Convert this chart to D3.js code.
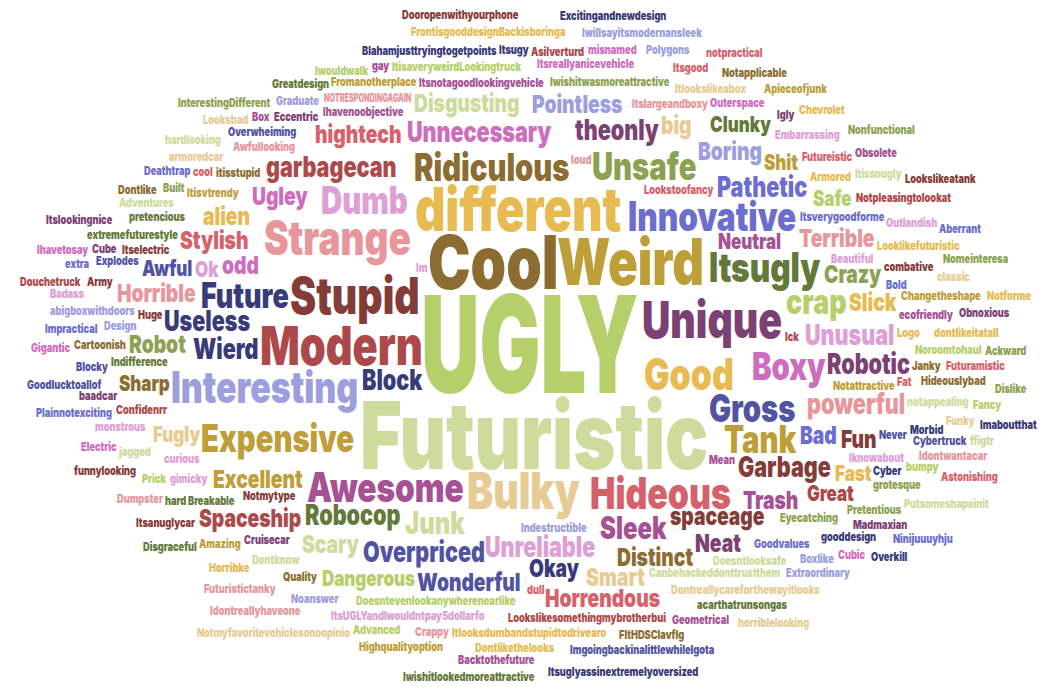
<!DOCTYPE html>
<html>
<head>
<meta charset="utf-8">
<script src="https://cdn.jsdelivr.net/npm/d3@7"></script>
<style>
  html, body { margin: 0; padding: 0; background: #fff; }
  #chart { width: 1061px; height: 687px; }
</style>
</head>
<body>
<div id="chart"></div>
<script>
// PALETTE (category20b)
const palette = [
  "#393b79", "#5254a3", "#6b6ecf", "#9c9ede", "#637939",
  "#8ca252", "#b5cf6b", "#cedb9c", "#8c6d31", "#bd9e39",
  "#e7ba52", "#e7cb94", "#843c39", "#ad494a", "#d6616b",
  "#e7969c", "#7b4173", "#a55194", "#ce6dbd", "#de9ed6"
];

// WORDS SAID MORE THAN ONCE

const commonWords = [
  "UGLY", "Futuristic", "Cool", "Weird", "different", "Modern", "Unique", "Stupid", "Strange", "Bulky",
  "Interesting", "Good", "Hideous", "Innovative", "Itsugly", "Awesome", "Ridiculous", "Gross", "Expensive", "Boxy",
  "Tank", "Dumb", "Unsafe", "Future", "crap", "Junk", "Sleek", "Unreliable", "Unnecessary", "Garbage",
  "garbagecan", "Wierd", "Block", "Robocop", "Unusual", "theonly", "Overpriced", "Pathetic", "powerful", "Useless",
  "Robotic", "spaceage", "Excellent", "odd", "Bad", "Ugley", "Crazy", "Terrible", "Distinct", "Boring",
  "Stylish", "Okay", "Trash", "hightech", "Disgusting", "Slick", "Scary", "Fun", "Smart", "Wonderful",
  "Pointless", "Neat", "Spaceship", "Robot", "Horrible", "alien", "big", "Horrendous", "Neutral", "Great",
  "Shit", "Fugly", "Awful", "Safe", "Sharp", "Clunky", "Fast", "Dangerous", "Ok"
];

const commonCounts = [
  39, 26, 20, 17, 16, 14, 13, 13, 12, 13,
  11, 11, 11, 10, 10, 10, 9, 9, 9, 9,
  9, 9, 9, 8, 8, 7, 7, 6, 6, 6,
  6, 6, 6, 6, 6, 6, 6, 6, 6, 6,
  6, 5, 5, 5, 5, 5, 5, 5, 5, 5,
  5, 5, 5, 5, 5, 5, 5, 5, 5, 5,
  5, 5, 5, 5, 5, 5, 5, 5, 4, 4,
  4, 4, 4, 4, 4, 4, 4, 4, 4
];

// palette slot of each word
const commonSlots = [
  6, 7, 8, 9, 10, 13, 16, 12, 15, 11,
  3, 10, 14, 2, 4, 17, 8, 1, 9, 18,
  9, 19, 5, 0, 6, 7, 17, 19, 18, 12,
  13, 0, 0, 4, 19, 16, 1, 2, 15, 0,
  16, 12, 9, 18, 2, 18, 5, 15, 8, 3,
  14, 0, 17, 14, 7, 10, 7, 12, 11, 1,
  3, 16, 13, 5, 15, 10, 11, 14, 17, 13,
  9, 11, 1, 6, 8, 4, 10, 6, 19
];

// WORDS SAID ONCE

const rareWords = [
  "Lookstoofancy", "Notmytype", "Itsverygoodforme", "Indestructible", "Itsnotagoodlookingvehicle", "Doesntevenlookanywherenearlike", "Notattractive", "Eyecatching", "Canbehackeddonttrustthem", "Beautiful",
  "Itisvtrendy", "Iknowabout", "Ihavenoobjective", "Iwishitwasmoreattractive", "Logo", "itisstupid", "Indifference", "Huge", "Itslargeandboxy", "Goodvalues",
  "Doesntlooksafe", "ecofriendly", "Awfullooking", "combative", "Mean", "Cruisecar", "Breakable", "Armored", "Bold", "curious",
  "Lookslikesomethingmybrotherbui", "NOTRESPONDINGAGAIN", "Never", "Looklikefuturistic", "ItisaveryweirdLookingtruck", "Confidenrr", "Changetheshape", "gimicky", "Janky", "Dontreallycareforthewayitlooks",
  "Itselectric", "Futureistic", "Noroomtohaul", "notappealing", "pretencious", "Overwheiming", "ItsUGLYandIwouldntpay5dollarfo", "Itsreallyanicevehicle", "Notpleasingtolookat", "loud",
  "Itlooksdumbandstupidtodrivearo", "Embarrassing", "extremefuturestyle", "Cyber", "Hideouslybad", "Outerspace", "Fromanotherplace", "Pretentious", "Dontknow", "Itlookslikeabox",
  "Design", "Eccentric", "Morbid", "Outlandish", "monstrous", "Quality", "dontlikeitatall", "Cartoonish", "grotesque", "Explodes",
  "Itissougly", "gooddesign", "jagged", "Cybertruck", "classic", "Prick", "Ick", "cool", "Fat", "bumpy",
  "dull", "abigboxwithdoors", "Boxlike", "Amazing", "Built", "hard", "Adventures", "acarthatrunsongas", "baadcar", "Blocky",
  "Igly", "armoredcar", "Army", "Im", "Futuramistic", "Madmaxian", "Graduate", "Noanswer", "Deathtrap", "Blahamjusttryingtogetpoints",
  "Asilverturd", "Extraordinary", "Itsanuglycar", "Itsgood", "Obnoxious", "Geometrical", "Funky", "Impractical", "Cube", "Dumpster",
  "Itsugy", "Obsolete", "hardlooking", "Greatdesign", "Nomeinteresa", "Idontwantacar", "Cubic", "Crappy", "Horribke", "FltHDSClavflg",
  "Dontlikethelooks", "funnylooking", "Plainnotexciting", "Dontlike", "Looksbad", "Electric", "misnamed", "Iwouldwalk", "Notapplicable", "Chevrolet",
  "Advanced", "Apieceofjunk", "Aberrant", "FrontisgooddesignBackisboringa", "InterestingDifferent", "Goodlucktoallof", "Futuristictanky", "Putsomeshapeinit", "Imgoingbackinalittlewhilelgota", "Polygons",
  "Nonfunctional", "Lookslikeatank", "Box", "gay", "Badass", "Ackward", "Disgraceful", "Fancy", "Astonishing", "Highqualityoption",
  "Gigantic", "Backtothefuture", "Itslookingnice", "Notforme", "Iwillsayitsmodernansleek", "notpractical", "extra", "Dislike", "ffigtr", "Idontreallyhaveone",
  "Dooropenwithyourphone", "Excitingandnewdesign", "Douchetruck", "Imaboutthat", "Ninijuuuyhju", "Ihavetosay", "Overkill", "horriblelooking", "Itsuglyassinextremelyoversized", "Iwishitlookedmoreattractive",
  "Notmyfavoritevehiclesonoopinio"
];

const rareSlots = [
  14, 12, 2, 3, 17, 6, 9, 5, 7, 19,
  9, 19, 17, 5, 10, 8, 4, 12, 15, 2,
  7, 17, 15, 12, 17, 16, 4, 10, 2, 19,
  13, 15, 1, 10, 6, 13, 9, 19, 8, 11,
  12, 14, 6, 7, 4, 1, 19, 18, 13, 15,
  10, 19, 4, 0, 8, 18, 9, 5, 7, 11,
  3, 16, 0, 19, 19, 8, 10, 8, 5, 1,
  7, 0, 7, 1, 11, 6, 13, 14, 14, 6,
  14, 3, 3, 9, 5, 4, 7, 4, 16, 1,
  16, 11, 12, 19, 14, 16, 3, 3, 2, 0,
  13, 3, 12, 14, 16, 17, 11, 2, 16, 15,
  0, 17, 7, 4, 5, 15, 18, 15, 10, 8,
  10, 12, 2, 8, 11, 18, 18, 6, 8, 10,
  6, 9, 2, 10, 5, 1, 15, 7, 1, 3,
  5, 12, 17, 17, 19, 5, 4, 6, 14, 9,
  18, 17, 16, 10, 3, 14, 2, 5, 7, 15,
  12, 0, 13, 0, 2, 18, 0, 11, 0, 4,
  11
];

// SVG CANVAS

const width = 1061;
const height = 687;
const FONT = "Inter, Roboto, sans-serif";
const WEIGHT = 900;

// horizontal squeeze to get an Impact-like narrow face (capitals are narrower in Impact)
function squeeze(text) {
    return text === text.toUpperCase() ? 0.6 : 0.77;
}

const svg = d3.select("#chart")
    .append("svg")
    .attr("width", width)
    .attr("height", height);

const g = svg.append("g");

// DATA + SCALES

let words = commonWords.map(function(w, i) {
    return {text: w, count: commonCounts[i], slot: commonSlots[i]};
}).concat(rareWords.map(function(w, i) {
    return {text: w, count: 1, slot: rareSlots[i]};
}));

const sizeScale = d3.scaleLinear()
    .domain([1, d3.max(words, function(d) { return d.count; })])
    .range([12, 135]);

const colorScale = d3.scaleOrdinal()
    .domain(d3.range(palette.length))
    .range(palette);

words.forEach(function(d) {
    d.size = Math.round(sizeScale(d.count));
    d.sx = squeeze(d.text);
});
words.sort(function(a, b) { return b.count - a.count; });

// SPRITES (ink box of each word, from a hidden canvas)

const sc = document.createElement("canvas");
sc.width = 1200;
sc.height = 260;
const sctx = sc.getContext("2d", {willReadFrequently: true});

function makeSprite(d) {
    sctx.setTransform(1, 0, 0, 1, 0, 0);
    sctx.clearRect(0, 0, sc.width, sc.height);
    sctx.font = `${WEIGHT} ${d.size}px ${FONT}`;
    const tw = Math.ceil(sctx.measureText(d.text).width * d.sx);
    const ox = 4, oy = Math.ceil(d.size * 1.05) + 4;
    const rw = Math.min(sc.width, tw + 10);
    const rh = Math.min(sc.height, Math.ceil(d.size * 1.45) + 10);
    sctx.setTransform(d.sx, 0, 0, 1, ox, oy);
    sctx.fillStyle = "#000";
    sctx.fillText(d.text, 0, 0);
    const px = sctx.getImageData(0, 0, rw, rh).data;

    let x0 = rw, y0 = rh, x1 = -1, y1 = -1;
    for (let y = 0; y < rh; y++) {
        for (let x = 0; x < rw; x++) {
            if (px[(y * rw + x) * 4 + 3] > 40) {
                if (x < x0) x0 = x;
                if (x > x1) x1 = x;
                if (y < y0) y0 = y;
                if (y > y1) y1 = y;
            }
        }
    }
    // one pixel of padding round the ink box
    x0 -= 1; y0 -= 1; x1 += 1; y1 += 1;
    d.sw = x1 - x0 + 1;
    d.sh = y1 - y0 + 1;
    d.ox = ox - x0;
    d.oy = oy - y0;
}

// LAYOUT (archimedean spiral from the middle, on an occupancy grid)

const board = new Uint8Array(width * height);

function free(d, bx, by) {
    for (let r = 0; r < d.sh; r++) {
        const row = (by + r) * width + bx;
        for (let k = 0; k < d.sw; k++) if (board[row + k]) return false;
    }
    return true;
}

function fill(d, bx, by) {
    for (let r = 0; r < d.sh; r++) board.fill(1, (by + r) * width + bx, (by + r) * width + bx + d.sw);
}

const ratio = width / height;
const maxDelta = Math.hypot(width, height);

function place(d) {
    const cx = width / 2, cy = height / 2;
    for (let t = 0; ; t++) {
        const a = t * 0.1;
        if (a > maxDelta) return false;
        const dx = ~~(ratio * a * Math.cos(a)), dy = ~~(a * Math.sin(a));
        const bx = Math.round(cx + dx - d.sw / 2), by = Math.round(cy + dy - d.sh / 2);
        if (bx < 2 || by < 2 || bx + d.sw > width - 2 || by + d.sh > height - 2) continue;
        if (free(d, bx, by)) {
            fill(d, bx, by);
            d.x = bx + d.ox;
            d.y = by + d.oy;
            return true;
        }
    }
}

const placed = [];
words.forEach(function(d) {
    makeSprite(d);
    if (place(d)) placed.push(d);
});

// DRAW WORDS

g.selectAll("text")
    .data(placed)
    .join("text")
        .attr("transform", function(d) { return `translate(${d.x},${d.y}) scale(${d.sx},1)`; })
        .attr("font-family", FONT)
        .attr("font-weight", WEIGHT)
        .attr("font-size", function(d) { return d.size; })
        .attr("fill", function(d) { return colorScale(d.slot); })
        .text(function(d) { return d.text; });
</script>
</body>
</html>
